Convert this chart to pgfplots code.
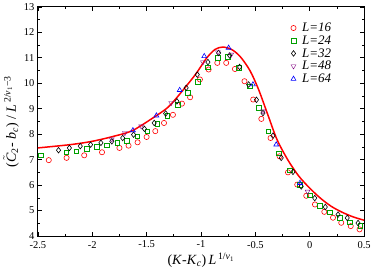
\documentclass[border=0pt]{standalone}
\usepackage{fontspec}
\setmainfont{Liberation Serif}
\usepackage{pgfplots}
\pgfplotsset{compat=1.18}
\definecolor{myred}{RGB}{255,0,0}
\definecolor{mygreen}{RGB}{0,160,0}
\definecolor{mypurple}{RGB}{128,0,128}
\definecolor{myblue}{RGB}{0,0,255}
\begin{document}
\begin{tikzpicture}
\begin{axis}[
 width=326pt, height=229pt, scale only axis,
 xmin=-2.5, xmax=0.5, ymin=4, ymax=13,
 xtick={-2.5,-2,-1.5,-1,-0.5,0,0.5},
 ytick={4,5,...,13},
 minor x tick num=1, minor y tick num=1,
 tick align=inside,
 major tick length=4pt, minor tick length=2.2pt,
 axis line style={line width=0.9pt},
 every tick/.style={line width=0.6pt, black},
 tick label style={font=\fontsize{10.5}{12}\selectfont},
 xticklabel style={yshift=-1.5pt},
 /pgf/number format/assume math mode=true,
 xlabel={(\textit{K}-\textit{K}\textsubscript{\textit{c}})\,\textit{L}\textsuperscript{\,1/\textit{ν}\textsubscript{1}}},
 ylabel={($\tilde{\textit{C}}$\textsubscript{2}- \textit{b}\textsubscript{\textit{c}}) / \textit{L}\textsuperscript{\,2/\textit{ν}\textsubscript{1}−3}},
 label style={font=\fontsize{14}{16}\selectfont},
 xlabel style={yshift=2pt},
 ylabel style={yshift=-2pt},
 legend style={draw=none, fill=none, at={(0.775,0.935)}, anchor=north west,
   font=\fontsize{13}{15}\selectfont, row sep=0.6pt, inner sep=0pt,
   nodes={inner sep=1pt}, column sep=5pt},
 legend cell align=left,
 every axis plot/.append style={mark options={solid, line width=0.6pt}},
]
\addplot[only marks, mark=o, color=myred, mark size=2.6pt] coordinates {
(-2.40,6.98) (-2.236,7.07) (-2.074,7.17) (-1.91,7.29) (-1.75,7.46) (-1.666,7.55)
(-1.583,7.68) (-1.50,7.89) (-1.42,8.12) (-1.34,8.44) (-1.258,8.76) (-1.175,9.20)
(-1.10,9.45) (-1.01,10.15) (-0.93,10.54) (-0.85,10.80) (-0.768,10.80) (-0.688,10.56)
(-0.60,10.08) (-0.52,9.36) (-0.445,8.60) (-0.36,7.85) (-0.277,7.13) (-0.20,6.50)
(-0.115,6.02) (-0.032,5.58) (0.048,5.24) (0.134,4.95) (0.214,4.72) (0.29,4.52)
(0.377,4.39) (0.458,4.26)
};
\addlegendentry{\textit{L=16}}
\addplot[only marks, mark=square, color=mygreen, mark size=2.3pt] coordinates {
(-2.475,7.17) (-2.24,7.29) (-2.148,7.33) (-2.05,7.42) (-1.957,7.50) (-1.865,7.56)
(-1.77,7.66) (-1.68,7.75) (-1.586,7.92) (-1.494,8.12) (-1.40,8.40) (-1.31,8.71)
(-1.212,9.16) (-1.12,9.62) (-1.028,10.05) (-0.936,10.62) (-0.844,11.0) (-0.752,11.04)
(-0.65,10.60) (-0.552,9.88) (-0.47,9.03) (-0.38,8.11) (-0.285,7.25) (-0.185,6.58)
(-0.093,6.02) (0.0,5.6) (0.092,5.19) (0.184,4.93) (0.276,4.71) (0.368,4.54) (0.465,4.41)
};
\addlegendentry{\textit{L=24}}
\addplot[only marks, mark=diamond, color=black, mark size=2.8pt] coordinates {
(-2.31,7.37) (-2.21,7.46) (-2.11,7.53) (-2.015,7.59) (-1.92,7.66) (-1.82,7.72)
(-1.72,7.85) (-1.62,7.98) (-1.52,8.21) (-1.43,8.44) (-1.325,8.81) (-1.221,9.29)
(-1.136,9.82) (-1.034,10.34) (-0.936,10.83) (-0.838,11.19) (-0.736,11.09) (-0.645,10.64)
(-0.562,9.95) (-0.49,9.35) (-0.43,8.83) (-0.338,7.94) (-0.262,7.07) (-0.154,6.52)
(-0.078,5.95) (0.046,5.49) (0.143,5.14) (0.26,4.84) (0.345,4.71) (0.444,4.51)
};
\addlegendentry{\textit{L=32}}
\addplot[only marks, mark=triangle, mark options={rotate=180}, color=mypurple, mark size=2.8pt] coordinates {
(-1.82,7.80) (-1.70,8.05) (-1.55,8.31) (-1.274,9.23) (-0.982,10.83) (-0.844,11.22)
(-0.722,11.13) (-0.43,8.90) (-0.02,5.75)
};
\addlegendentry{\textit{L=48}}
\addplot[only marks, mark=triangle, color=myblue, mark size=2.8pt] coordinates {
(-1.626,8.15) (-1.41,8.73) (-1.196,9.73) (-0.97,11.06) (-0.746,11.39) (-0.522,9.95)
(-0.308,7.59) (-0.09,6.08)
};
\addlegendentry{\textit{L=64}}
\addplot[color=myred, line width=1.5pt, smooth, forget plot] coordinates {
(-2.5,7.46) (-2.2,7.59) (-2.0,7.72) (-1.8,7.92) (-1.626,8.15) (-1.41,8.73)
(-1.3,9.07) (-1.2,9.55) (-1.05,10.35) (-0.95,10.98) (-0.87,11.33) (-0.80,11.42)
(-0.72,11.33) (-0.64,11.05) (-0.55,10.5) (-0.47,9.75) (-0.38,8.7) (-0.30,7.78)
(-0.2,6.98) (-0.1,6.35) (0.0,5.88) (0.1,5.48) (0.2,5.16) (0.3,4.93) (0.4,4.75) (0.5,4.62)
};
\end{axis}
\end{tikzpicture}
\end{document}
